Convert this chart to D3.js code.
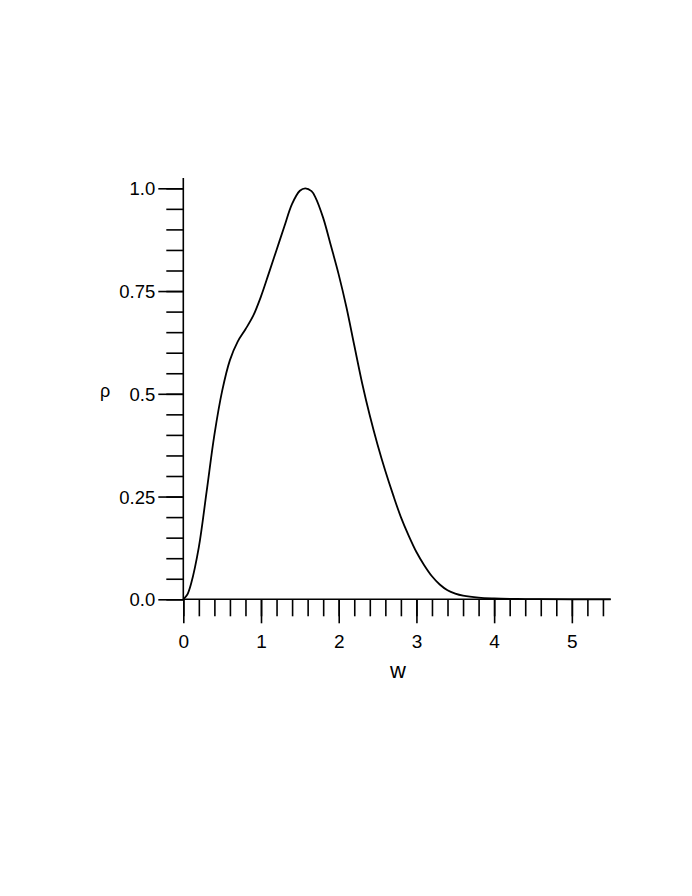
<!DOCTYPE html>
<html>
<head>
<meta charset="utf-8">
<script src="https://cdn.jsdelivr.net/npm/d3@7"></script>
<style>
  body { margin: 0; background: #fff; }
  text { font-family: "Liberation Sans", Arial, sans-serif; fill: #000; }
</style>
</head>
<body>
<div id="chart"></div>
<script>
// curve samples
var wValues   = [0, 0.05, 0.1, 0.2, 0.3, 0.4, 0.5, 0.6, 0.7, 0.8, 0.9, 1.0, 1.1, 1.2, 1.3, 1.4, 1.5, 1.57, 1.65, 1.7, 1.8, 1.9, 2.0, 2.1, 2.2, 2.3, 2.4, 2.5, 2.6, 2.7, 2.8, 2.9, 3.0, 3.1, 3.2, 3.3, 3.4, 3.5, 3.6, 3.8, 4.0, 4.3, 4.6, 5.0, 5.5];
var rhoValues = [0, 0.011, 0.038, 0.127, 0.262, 0.40, 0.507, 0.582, 0.627, 0.657, 0.69, 0.737, 0.793, 0.85, 0.907, 0.962, 0.994, 1.0, 0.993, 0.978, 0.928, 0.86, 0.79, 0.71, 0.618, 0.527, 0.447, 0.376, 0.312, 0.254, 0.20, 0.155, 0.115, 0.083, 0.056, 0.036, 0.022, 0.014, 0.009, 0.004, 0.002, 0.0007, 0.0002, 0, 0];

var xMajor = [0, 1, 2, 3, 4, 5];
var xMinor = d3.range(0, 28).map(function(i) { return i * 0.2; });
var yMajor = [0, 0.25, 0.5, 0.75, 1.0];
var yLabels = ["0.0", "0.25", "0.5", "0.75", "1.0"];
var yMinor = d3.range(0, 21).map(function(i) { return i * 0.05; });

var width = 692, height = 896;

var x = d3.scaleLinear().domain([0, 5.5]).range([183.3, 610.7]);
var y = d3.scaleLinear().domain([0, 1]).range([599.3, 188.3]);

var svg = d3.select("#chart").append("svg")
    .attr("width", width)
    .attr("height", height);

// x axis: minor ticks, then major ticks with labels
svg.append("g")
    .attr("transform", "translate(0," + y(0) + ")")
    .call(d3.axisBottom(x).tickValues(xMinor).tickSize(17).tickFormat(""))
    .call(function(g) { g.select(".domain").remove(); });

var xAx = svg.append("g")
    .attr("transform", "translate(0," + y(0) + ")")
    .call(d3.axisBottom(x).tickValues(xMajor).tickSize(24).tickPadding(11).tickSizeOuter(0)
        .tickFormat(d3.format("d")));
xAx.select(".domain").attr("d", "M" + x(0) + ",0H" + x(5.5));
xAx.selectAll("text").style("font-size", "19px").attr("font-family", null);

// y axis
svg.append("g")
    .attr("transform", "translate(" + x(0) + ",0)")
    .call(d3.axisLeft(y).tickValues(yMinor).tickSize(17).tickFormat(""))
    .call(function(g) { g.select(".domain").remove(); });

var yAx = svg.append("g")
    .attr("transform", "translate(" + x(0) + ",0)")
    .call(d3.axisLeft(y).tickValues(yMajor).tickSize(25).tickPadding(3).tickSizeOuter(0)
        .tickFormat(function(d, i) { return yLabels[i]; }));
yAx.select(".domain").attr("d", "M0," + y(0) + "V" + y(1.025));
yAx.selectAll("text").style("font-size", "18.5px").attr("font-family", null).attr("dy", "0.36em");

svg.selectAll(".tick line, .domain").attr("stroke", "#000").attr("stroke-width", 1.6);

// curve
var line = d3.line()
    .x(function(d, i) { return x(wValues[i]); })
    .y(function(d) { return y(d); })
    .curve(d3.curveCatmullRom.alpha(0.5));

svg.append("path")
    .datum(rhoValues)
    .attr("d", line)
    .attr("fill", "none")
    .attr("stroke", "#000")
    .attr("stroke-width", 1.8);

// axis titles
svg.append("text")
    .attr("x", 398).attr("y", 678)
    .attr("text-anchor", "middle")
    .style("font-size", "22px")
    .text("w");

svg.append("text")
    .attr("x", 105).attr("y", 397)
    .attr("text-anchor", "middle")
    .style("font-size", "18px")
    .text("ρ");
</script>
</body>
</html>
